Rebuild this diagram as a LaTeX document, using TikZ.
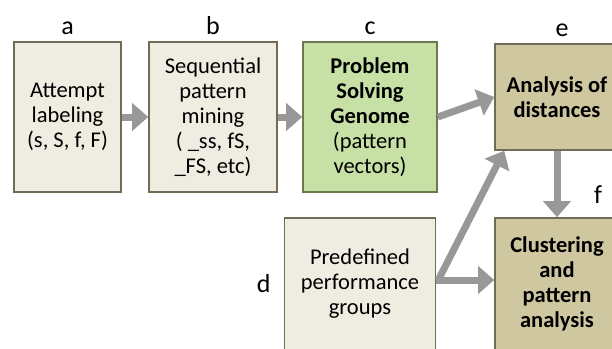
\documentclass[tikz,border=0pt]{standalone}
\usepackage{fontspec}
\setmainfont{Carlito}
\usepackage{tikz}
\usetikzlibrary{positioning,arrows.meta}
\definecolor{boxfill}{RGB}{239,236,226}
\definecolor{boxdraw}{RGB}{112,108,86}
\definecolor{genfill}{RGB}{198,224,166}
\definecolor{gendraw}{RGB}{104,122,78}
\definecolor{anafill}{RGB}{207,199,160}
\definecolor{arrowgray}{RGB}{152,152,152}

\begin{document}
\begin{tikzpicture}[x=1pt,y=-1pt,
          stage/.style={draw=boxdraw,line width=1.6pt,fill=boxfill,align=center,
                        inner sep=0pt,font=\fontsize{22.5}{25}\selectfont},
          genome/.style={stage,draw=gendraw,fill=genfill},
          result/.style={stage,fill=anafill},
          tag/.style={font=\fontsize{26}{30}\selectfont,inner sep=1pt},
          flow/.style={draw=arrowgray,line width=7pt,
                       -{Triangle[length=16pt,width=27pt]}}
          ]
          \clip (0,0) rectangle (612,348);
          % the pipeline boxes
          \node[stage,minimum width=107pt,minimum height=150pt] (a) at (67.5,117)
            {Attempt\\labeling\\(s, S, f, F)};
          \node[stage,minimum width=128pt,minimum height=150pt] (b) at (213,117)
            {Sequential\\pattern\\mining\\( \_ss, fS,\\\_FS, etc)};
          \node[genome,minimum width=134pt,minimum height=150pt] (c) at (370,117)
            {\textbf{Problem}\\\textbf{Solving}\\\textbf{Genome}\\(pattern\\vectors)};
          \node[stage,minimum width=151pt,minimum height=132pt] (d) at (360,284)
            {Predefined\\performance\\groups};
          % the analysis boxes
          \node[result,minimum width=124pt,minimum height=106pt] (e) at (557,97)
            {\textbf{Analysis of}\\\textbf{distances}};
          \node[result,minimum width=124pt,minimum height=132pt] (f) at (557,284)
            {\textbf{Clustering}\\\textbf{and}\\\textbf{pattern}\\\textbf{analysis}};
          % the letters
          \node[tag,above=5pt of a] (la) {a};
          \node[tag,above=5pt of b] (lb) {b};
          \node[tag,above=5pt of c] (lc) {c};
          \node[tag,above=5pt of e,xshift=5pt] (le) {e};
          \node[tag] (lf) at (598,195) {f};
          \node[tag,left=12pt of d] (ld) {d};
          % the arrows
          \draw[flow] (a) -- (b);
          \draw[flow] (b) -- (c);
          \draw[flow] (c.east) -- (e.west);
          \draw[flow] ([xshift=2pt,yshift=4pt]d.east) -- ([xshift=10pt]e.south west);
          \draw[flow] ([yshift=4pt]d.east) -- ([yshift=4pt]f.west);
          \draw[flow] (e.south) -- (f.north);
        \end{tikzpicture}
\end{document}
